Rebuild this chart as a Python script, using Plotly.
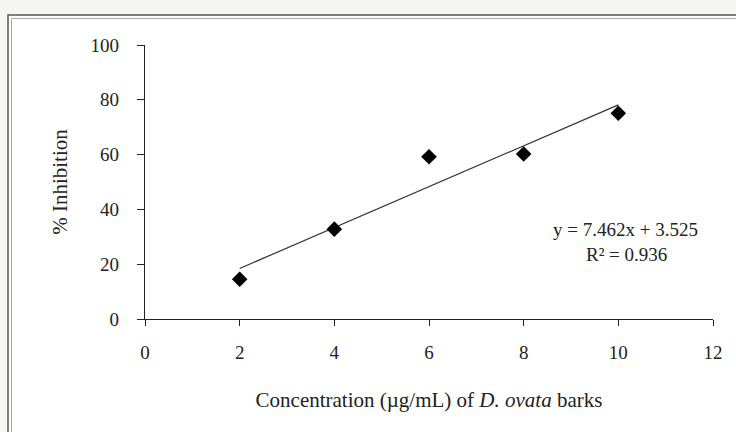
import plotly.graph_objects as go

# Data
concentration = [2, 4, 6, 8, 10]
inhibition = [14.5, 32.8, 59.2, 60.2, 75.1]
slope = 7.462
intercept = 3.525
equation_text = "y = 7.462x + 3.525"
r2_text = "R² = 0.936"
x_ticks = [0, 2, 4, 6, 8, 10, 12]
y_ticks = [0, 20, 40, 60, 80, 100]

W, H = 736, 432
L, R, T, B = 145, 23, 45, 113
pw, ph = W - L - R, H - T - B


def px(x):
    return (x - L) / pw


def py(y):
    return (H - B - y) / ph


FONT = "Liberation Serif"
TXT = "#222222"

fig = go.Figure()

trend_x = [concentration[0], concentration[-1]]
trend_y = [slope * v + intercept for v in trend_x]
fig.add_trace(go.Scatter(x=trend_x, y=trend_y, mode="lines",
                         line=dict(color="#333333", width=1.2),
                         hoverinfo="skip", showlegend=False))
fig.add_trace(go.Scatter(x=concentration, y=inhibition, mode="markers",
                         marker=dict(symbol="diamond", size=12, color="black"),
                         showlegend=False))

axis_common = dict(showgrid=False, zeroline=False, showline=True,
                   linecolor="#222222", linewidth=1.2, ticks="outside",
                   tickcolor="#222222", tickwidth=1.2, mirror=False,
                   tickfont=dict(family=FONT, size=19, color=TXT))

fig.update_xaxes(range=[0, 12], tickvals=x_ticks, ticklen=6,
                 ticklabelstandoff=10,
                 title=dict(text="Concentration (µg/mL) of <i>D. ovata</i> barks",
                            font=dict(family=FONT, size=21, color=TXT),
                            standoff=30),
                 **axis_common)
fig.update_yaxes(range=[0, 100], tickvals=y_ticks, ticklen=7,
                 ticklabelstandoff=14,
                 title=dict(text="% Inhibition",
                            font=dict(family=FONT, size=21, color=TXT),
                            standoff=17),
                 **axis_common)

fig.add_annotation(xref="paper", yref="paper", x=px(625), y=py(229),
                   text=equation_text, showarrow=False, xanchor="center",
                   yanchor="middle",
                   font=dict(family=FONT, size=19, color=TXT))
fig.add_annotation(xref="paper", yref="paper", x=px(626), y=py(254),
                   text=r2_text, showarrow=False, xanchor="center",
                   yanchor="middle",
                   font=dict(family=FONT, size=19, color=TXT))

# frame
fig.add_shape(type="rect", xref="paper", yref="paper", layer="below",
              x0=px(8), x1=px(760), y0=py(15), y1=py(460),
              fillcolor="white", line=dict(color="#555555", width=1.5))
fig.add_shape(type="rect", xref="paper", yref="paper", layer="below",
              x0=px(11.5), x1=px(760), y0=py(18.5), y1=py(460),
              line=dict(color="#aaaaaa", width=1))

fig.update_layout(width=W, height=H, margin=dict(l=L, r=R, t=T, b=B),
                  paper_bgcolor="#f5f5f3", plot_bgcolor="rgba(0,0,0,0)",
                  showlegend=False)

fig.write_html("out.html",
               config={"displayModeBar": False},
               post_script="document.body.style.margin='0';"
                           "document.body.style.background='#f5f5f3';")
